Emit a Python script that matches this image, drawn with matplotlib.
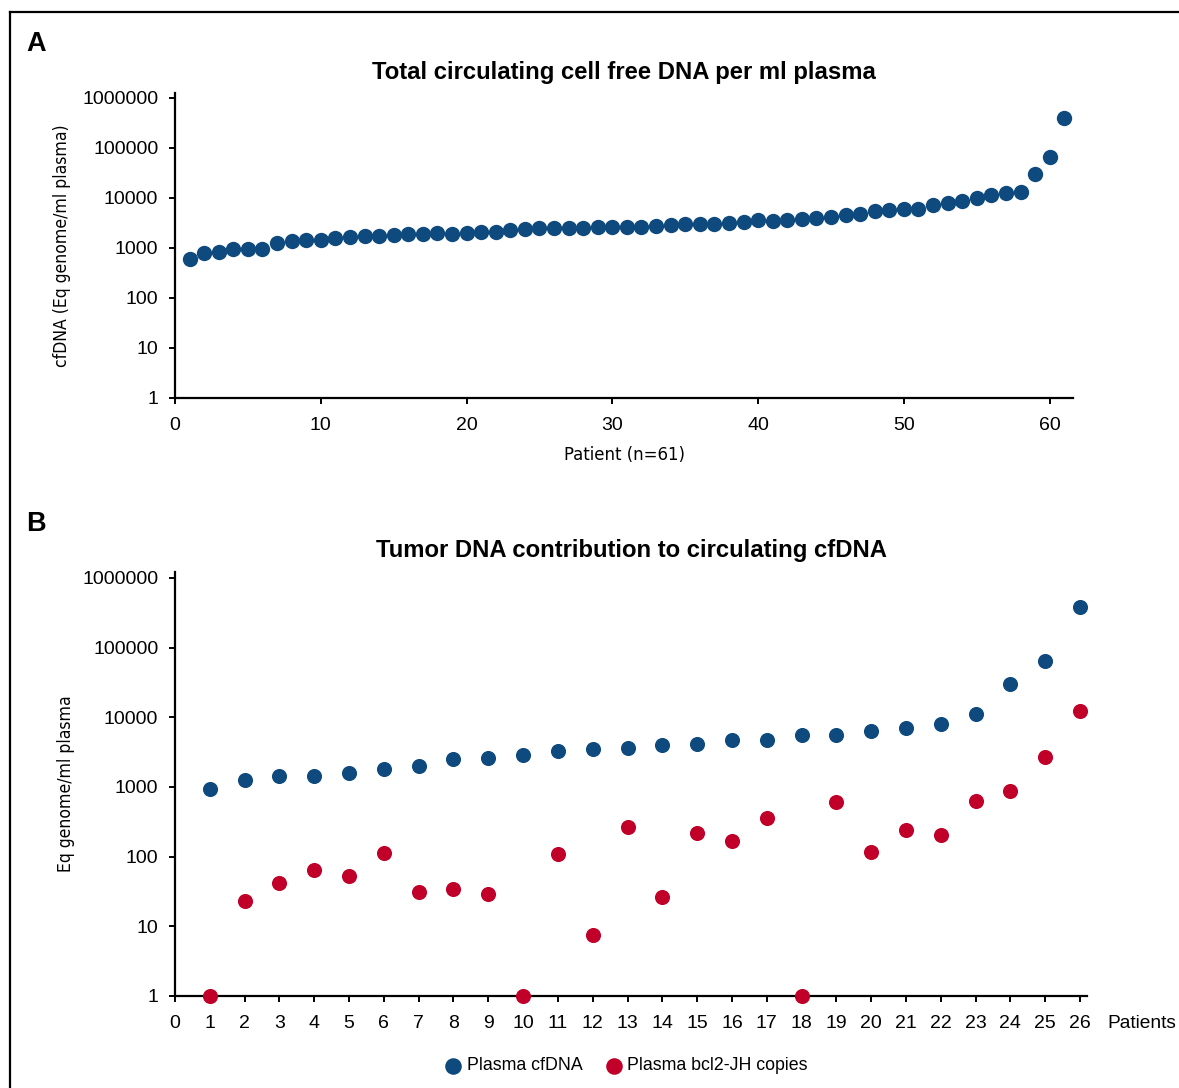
import matplotlib
matplotlib.use("Agg")
import matplotlib.pyplot as plt
import matplotlib.font_manager as fm
from matplotlib.lines import Line2D
from matplotlib.ticker import FixedLocator, NullLocator

#------------------------------------------------------------------------------
# data
patients_a = list(range(1, 62))
cfdna_a = [603, 805, 843, 955, 955, 955, 1278, 1380, 1445, 1420,
           1585, 1660, 1765, 1765, 1820, 1905, 1930, 1965, 1930, 1965,
           2057, 2122, 2256, 2437, 2480, 2480, 2550, 2550, 2630, 2650,
           2670, 2670, 2797, 2840, 2973, 3067, 3067, 3211, 3311, 3573,
           3524, 3573, 3802, 3920, 4169, 4571, 4861, 5495, 5754, 6120,
           6026, 7244, 7820, 8840, 10160, 11480, 12400, 13380, 30200, 65060,
           398000]

patients_b = list(range(1, 27))
cfdna_b = [946, 1273, 1454, 1454, 1604, 1832, 2022, 2523, 2607, 2877,
           3286, 3509, 3589, 3963, 4140, 4777, 4777, 5508, 5508, 6295,
           6955, 7943, 11050, 30070, 64300, 383600]
bcl2_b = [1, 23.3, 42.3, 64.4, 53.3, 113, 31.1, 34.7, 29.4, 1,
          108, 7.6, 267, 26.6, 221, 169, 362, 1, 615, 117,
          244, 202, 636, 885, 2723, 12450]

y_ticks = [1, 10, 100, 1000, 10000, 100000, 1000000]
x_ticks_a = [0, 10, 20, 30, 40, 50, 60]
x_ticks_b = list(range(0, 27))

BLUE = '#0e4a7d'
RED = '#c1002a'
FONT = 'Liberation Sans'
TICK_SIZE = 14

W, H = 1179, 1088
plt.rcParams['font.family'] = [FONT, 'DejaVu Sans']


#------------------------------------------------------------------------------
def find_narrow():
    # axis titles in the original use a condensed face
    for f in fm.fontManager.ttflist:
        narrow = ('Narrow' in f.name or 'Condensed' in f.name
                  or f.stretch in ('condensed', 'semi-condensed'))
        if narrow and f.style == 'normal' and f.weight in (400, 'normal'):
            return f.fname
    return None
# end find_narrow

narrow_file = find_narrow()


def narrow_props(size):
    if narrow_file:
        return fm.FontProperties(fname=narrow_file, size=size)
    return fm.FontProperties(family=FONT, size=size * 1.05)
# end narrow_props


fig = plt.figure(figsize=(W / 100, H / 100), dpi=100)


def px_axes(left, top, right, bottom):
    return fig.add_axes([left / W, 1 - bottom / H, (right - left) / W,
                         (bottom - top) / H])
# end px_axes


def style_axes(ax, xticks, ylim_top):
    ax.set_yscale('log')
    ax.set_ylim(1, ylim_top)
    ax.yaxis.set_major_locator(FixedLocator(y_ticks))
    ax.yaxis.set_minor_locator(NullLocator())
    ax.set_yticklabels([str(v) for v in y_ticks])
    ax.set_xticks(xticks)
    for s in ('top', 'right'):
        ax.spines[s].set_visible(False)
    for s in ('left', 'bottom'):
        ax.spines[s].set_linewidth(1.6)
    ax.tick_params(axis='both', direction='out', length=4.5, width=1.4,
                   labelsize=TICK_SIZE, color='black')
    ax.tick_params(axis='x', pad=9.5)
    ax.tick_params(axis='y', pad=7.5)
# end style_axes


#------------------------------------------------------------------------------
# panel A
axA = px_axes(175, 93, 1073, 398)
axA.scatter(patients_a, cfdna_a, s=122, color=BLUE, linewidths=0,
            zorder=3, clip_on=False)
style_axes(axA, x_ticks_a, 10 ** 6.1)
axA.set_xlim(0, 61.6)
axA.set_title('Total circulating cell free DNA per ml plasma',
              fontsize=17.2, fontweight='bold', pad=10)
axA.set_ylabel('cfDNA (Eq genome/ml plasma)',
               fontproperties=narrow_props(12.6), labelpad=8)
axA.set_xlabel('Patient (n=61)', fontproperties=narrow_props(13.2),
               labelpad=8)

#------------------------------------------------------------------------------
# panel B
axB = px_axes(175, 572, 1087, 996)
axB.scatter(patients_b, cfdna_b, s=118, color=BLUE, linewidths=0,
            zorder=3, clip_on=False, label='Plasma cfDNA')
axB.scatter(patients_b, bcl2_b, s=118, color=RED, linewidths=0,
            zorder=3, clip_on=False, label='Plasma bcl2-JH copies')
style_axes(axB, x_ticks_b, 10 ** 6.086)
axB.set_xlim(0, 26.2)
axB.set_title('Tumor DNA contribution to circulating cfDNA',
              fontsize=17.2, fontweight='bold', pad=11)
axB.set_ylabel('Eq genome/ml plasma', fontproperties=narrow_props(12.6),
               labelpad=5)
axB.text(1107 / W, 1 - 1023 / H, 'Patients', transform=fig.transFigure,
         fontsize=13.8, va='center', ha='left')

fig.legend(*axB.get_legend_handles_labels(), loc='center',
           bbox_to_anchor=(625 / W, 1 - 1066 / H), ncol=2, frameon=False,
           fontsize=12.8, handlelength=1.2, handletextpad=0.15,
           columnspacing=1.15, markerscale=1.1)

#------------------------------------------------------------------------------
# panel letters and frame
fig.text(26 / W, 1 - 44 / H, 'A', fontsize=19.5, fontweight='bold',
         va='center', ha='left')
fig.text(26 / W, 1 - 524 / H, 'B', fontsize=19.5, fontweight='bold',
         va='center', ha='left')
fig.add_artist(Line2D([10 / W, 10 / W], [0, 1 - 12 / H], color='black',
                      lw=1.6, transform=fig.transFigure))
fig.add_artist(Line2D([10 / W, 1], [1 - 12 / H, 1 - 12 / H], color='black',
                      lw=1.6, transform=fig.transFigure))

fig.savefig('out.png', dpi=100)
